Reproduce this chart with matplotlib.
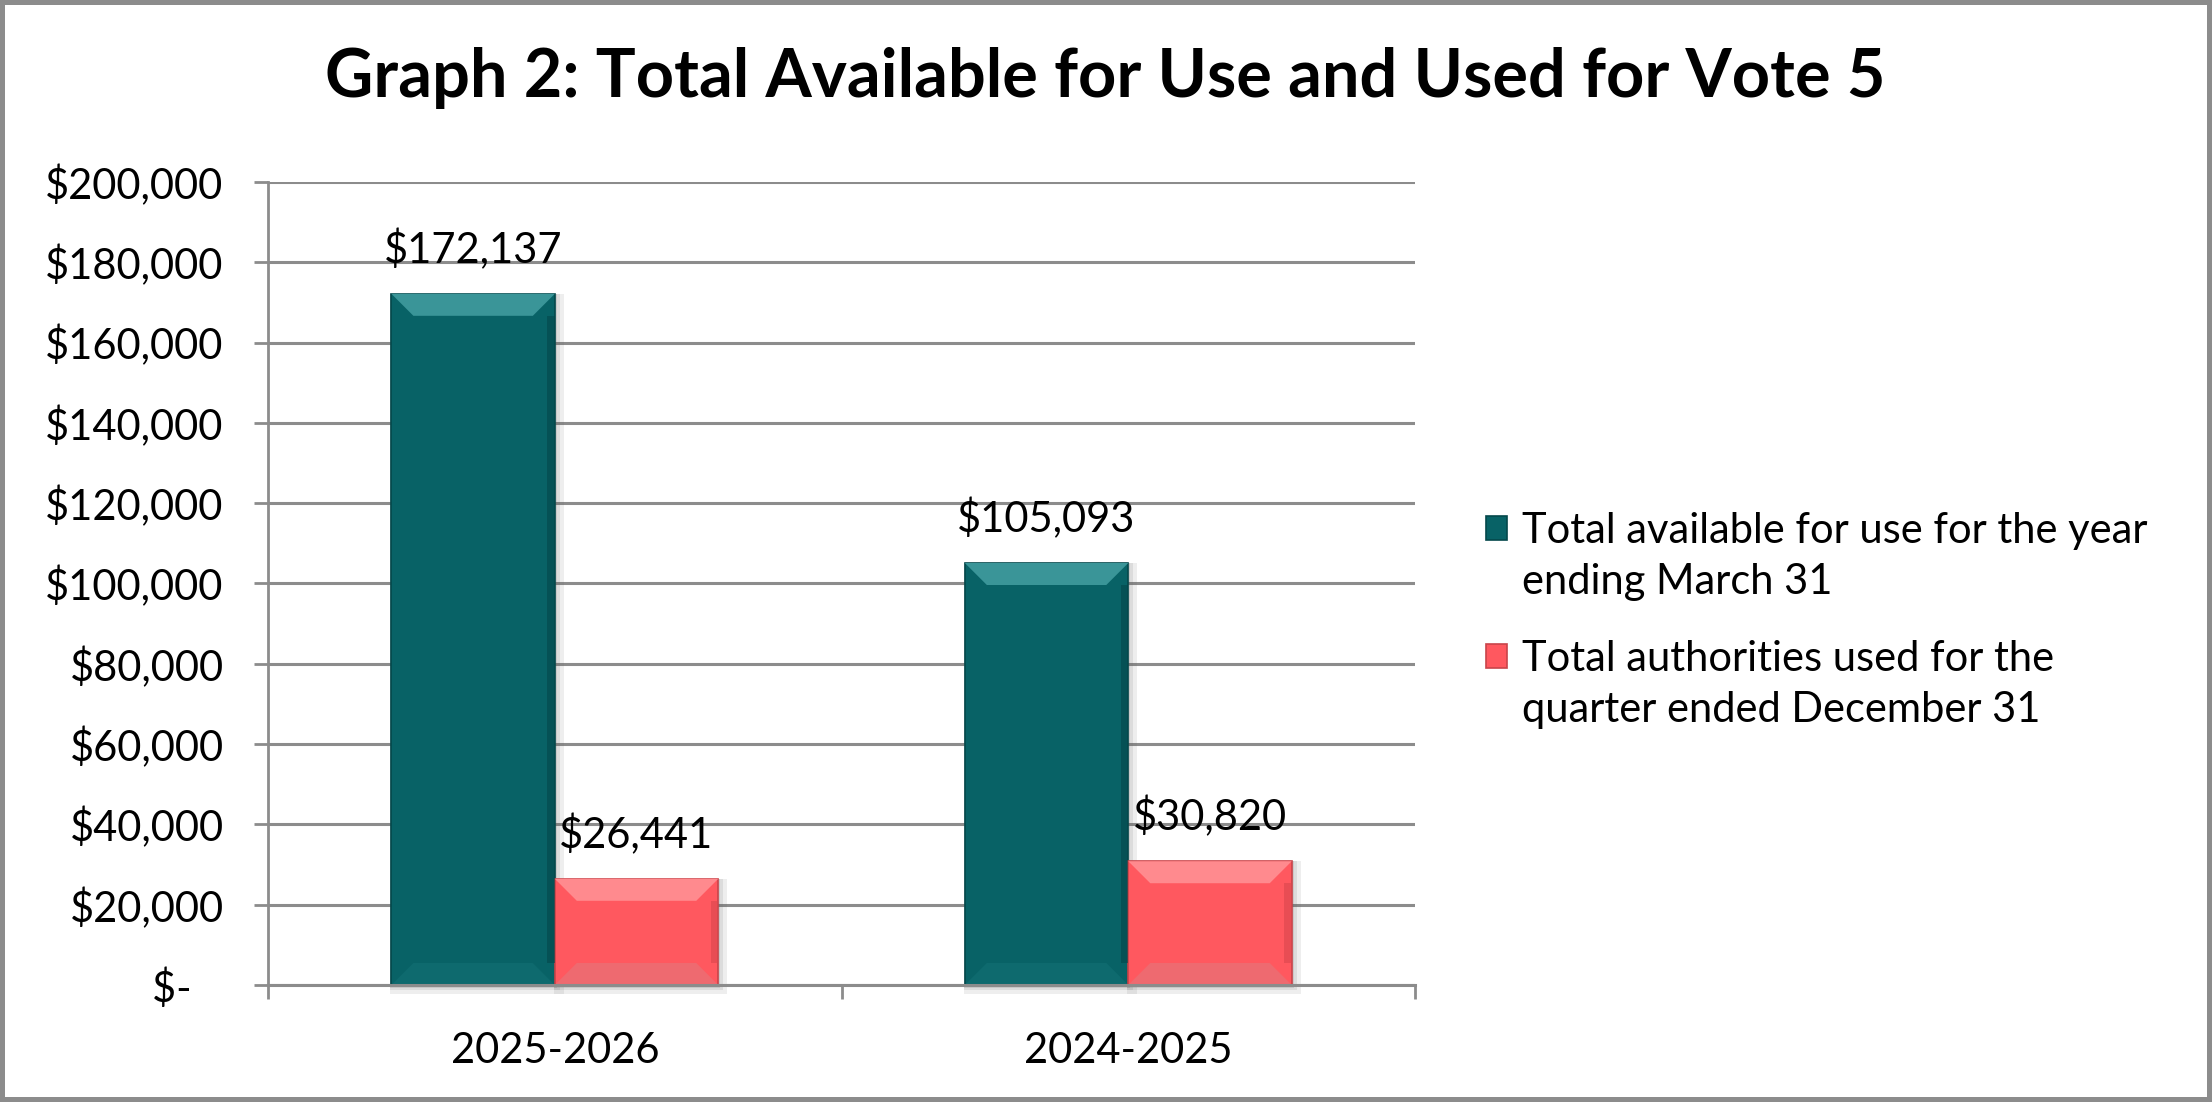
import matplotlib
matplotlib.use("Agg")
import matplotlib.pyplot as plt
import numpy as np
from matplotlib.ticker import FuncFormatter, FixedLocator
from matplotlib.patches import Polygon, Rectangle
from matplotlib.container import BarContainer
from matplotlib.legend_handler import HandlerPatch, update_from_first_child

# data
years = ["2025-2026", "2024-2025"]
available = [172137, 105093]
used = [26441, 30820]
series_labels = ["Total available for use for the year\nending March 31",
                 "Total authorities used for the\nquarter ended December 31"]
title = "Graph 2: Total Available for Use and Used for Vote 5"

plt.rcParams['font.family'] = ['Lato', 'DejaVu Sans']

teal = '#086266'
red = '#FF585F'
grid_c = '#8c8c8c'

fig = plt.figure(figsize=(22.12, 11.02), dpi=100)
fig.patch.set_facecolor('white')
fig.patch.set_edgecolor('#8c8c8c')
fig.patch.set_linewidth(6)

ax = fig.add_axes([0.1212, 0.1062, 0.5185, 0.7287])

x = np.arange(len(years))
w = 0.285
b1 = ax.bar(x - w/2, available, w, color=teal, edgecolor='#04484b', linewidth=1.2,
            label=series_labels[0], zorder=3)
b2 = ax.bar(x + w/2, used, w, color=red, edgecolor='#c8444a', linewidth=1.2,
            label=series_labels[1], zorder=3)

ax.set_xlim(-0.5, 1.5)
ax.set_ylim(0, 200000)

# bevel look: size in pixels converted to data units
bev_px = 22
sx = (ax.transData.transform((1, 0)) - ax.transData.transform((0, 0)))[0]
sy = (ax.transData.transform((0, 1)) - ax.transData.transform((0, 0)))[1]
dx = bev_px / sx
dy = bev_px / sy
bevel_cols = {teal: ('#3a9598', '#0e6a6e', '#03474a'), red: ('#ff8a8e', '#ee6a70', '#d9474e')}
for bars, col in ((b1, teal), (b2, red)):
    top_c, bot_c, side_c = bevel_cols[col]
    for r in bars:
        x0, x1 = r.get_x(), r.get_x() + r.get_width()
        h = r.get_height()
        # soft shadow
        for k, a in ((1.0, 0.10), (0.6, 0.12), (0.3, 0.15)):
            ax.add_patch(Rectangle((x0 - dx * 0.05, -dy * 0.4 * k), (x1 - x0) + dx * 0.45 * k,
                                   h + dy * 0.4 * k, facecolor='#606060', edgecolor='none',
                                   alpha=a, zorder=2.5, clip_on=False))
        ax.add_patch(Polygon([(x0, h), (x1, h), (x1 - dx, h - dy), (x0 + dx, h - dy)],
                             closed=True, facecolor=top_c, edgecolor='none', zorder=4))
        ax.add_patch(Polygon([(x0, 0), (x1, 0), (x1 - dx, dy), (x0 + dx, dy)],
                             closed=True, facecolor=bot_c, edgecolor='none', zorder=4))
        ax.add_patch(Rectangle((x1 - dx * 0.35, dy), dx * 0.35, h - 2 * dy,
                               facecolor=side_c, edgecolor='none', alpha=0.6, zorder=4))

for bars, vals in ((b1, available), (b2, used)):
    for r, v in zip(bars, vals):
        ax.annotate("${:,}".format(v), (r.get_x() + r.get_width()/2, v),
                    xytext=(0, 32), textcoords='offset points',
                    ha='center', va='center', fontsize=30)

ax.set_yticks(np.arange(0, 200001, 20000))
ax.yaxis.set_major_formatter(FuncFormatter(lambda v, p: "$-   " if v == 0 else "${:,.0f}".format(v)))
ax.yaxis.grid(True, color=grid_c, linewidth=2.2, zorder=0)
ax.set_axisbelow(True)

ax.set_xticks(x)
ax.set_xticklabels(years)
ax.xaxis.set_minor_locator(FixedLocator([-0.5, 0.5, 1.5]))
ax.tick_params(axis='x', which='major', length=0, pad=34, labelsize=30)
ax.tick_params(axis='x', which='minor', length=10, width=2, color=grid_c)
ax.tick_params(axis='y', length=10, width=2, color=grid_c, pad=22, labelsize=30)

for s in ['top', 'right']:
    ax.spines[s].set_visible(False)
ax.spines['left'].set_color(grid_c)
ax.spines['left'].set_linewidth(2)
ax.spines['bottom'].set_color(grid_c)
ax.spines['bottom'].set_linewidth(2.2)
ax.spines['bottom'].set_zorder(5)


# legend square sits next to the first line of each label
def up_square(legend, orig_handle, xdescent, ydescent, width, height, fontsize):
    return Rectangle((-xdescent, -ydescent + 0.7 * fontsize), width, height)


leg = ax.legend([b1, b2], series_labels, loc='center left', bbox_to_anchor=(0.655, 0.437),
                bbox_transform=fig.transFigure,
                frameon=False, fontsize=30, handlelength=0.5, handleheight=0.5,
                handletextpad=0.35, labelspacing=0.95,
                handler_map={BarContainer: HandlerPatch(patch_func=up_square,
                                                        update_func=update_from_first_child)})
for t in leg.texts:
    t.set_linespacing(1.42)

fig.text(0.4995, 0.929, title, ha='center', va='center', fontsize=48, fontweight='bold')

fig.savefig("out.png", dpi=100, facecolor='white', edgecolor=fig.get_edgecolor())
